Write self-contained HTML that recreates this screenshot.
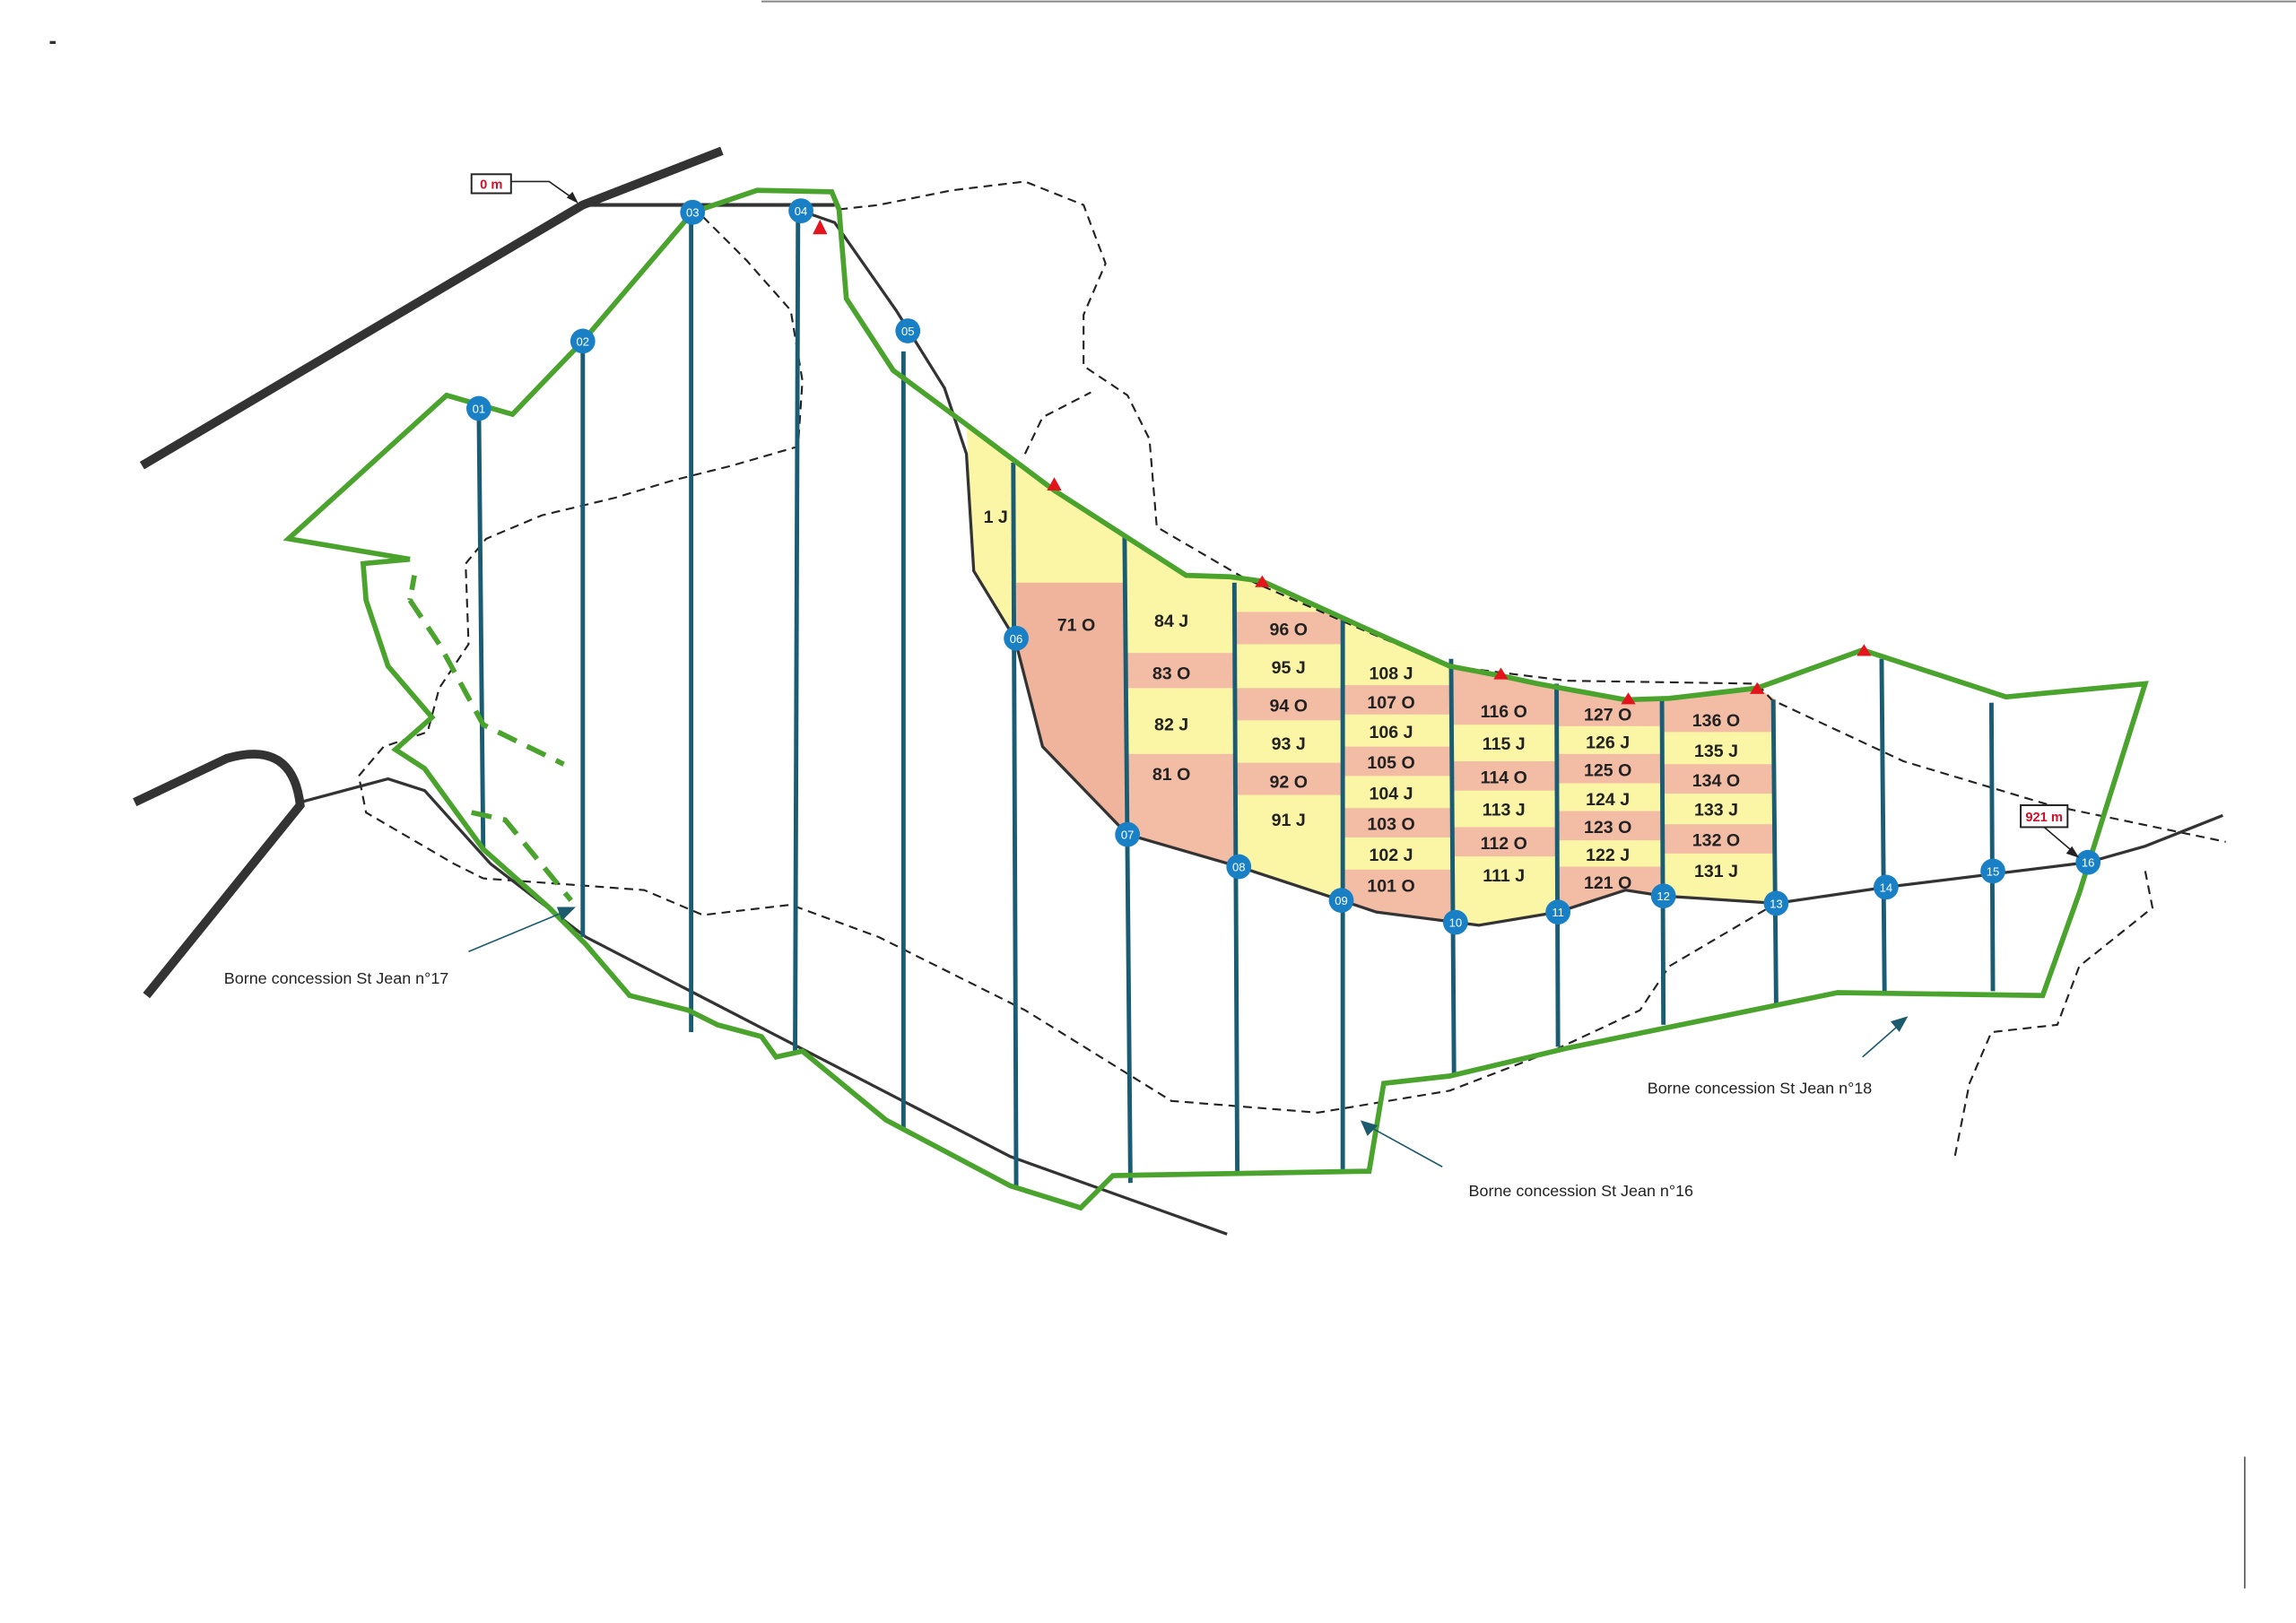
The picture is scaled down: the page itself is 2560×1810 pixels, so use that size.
<!DOCTYPE html>
<html><head><meta charset="utf-8"><style>
html,body{margin:0;padding:0;background:#fff;width:2560px;height:1810px;overflow:hidden}
svg{display:block}
text{font-family:"Liberation Sans",sans-serif}
.lb{font-size:12px;font-weight:bold;fill:#222;text-anchor:middle}
.nd text{font-size:8px;fill:#fff;text-anchor:middle}
</style></head><body>
<svg width="2560" height="1810" viewBox="0 0 1568 1108.6" xmlns="http://www.w3.org/2000/svg">
<defs>
<clipPath id="zone"><polygon points="660,290 720,335 810,393 862,397 930,428 990,455 1050,467 1110,478 1140,477 1200,470 1213,478 1213,617 1136,612 1110,608 1064,623 1010,632 940,623 916,615 846,592 770,570 712,510 693,436 665,390"/></clipPath>
</defs>
<line x1="520" y1="1" x2="1568" y2="1" stroke="#888" stroke-width="1.2"/>
<g clip-path="url(#zone)">
<rect x="640" y="280" width="600" height="360" fill="#fbf5a6"/>
<rect x="694" y="398" width="74" height="240" fill="#f0b49c"/>
<g fill="#f2bca5">
<rect x="768" y="446" width="75" height="24"/><rect x="768" y="515" width="75" height="80"/>
<rect x="843" y="418" width="74" height="22"/><rect x="843" y="470" width="74" height="22"/><rect x="843" y="521" width="74" height="22"/>
<rect x="917" y="468" width="74" height="20"/><rect x="917" y="510" width="74" height="20"/><rect x="917" y="552" width="74" height="20"/><rect x="917" y="594" width="74" height="40"/>
<rect x="991" y="455" width="72" height="40"/><rect x="991" y="520" width="72" height="20"/><rect x="991" y="565" width="72" height="20"/>
<rect x="1063" y="470" width="72" height="26"/><rect x="1063" y="515" width="72" height="20"/><rect x="1063" y="554" width="72" height="20"/><rect x="1063" y="592" width="72" height="30"/>
<rect x="1135" y="470" width="78" height="30"/><rect x="1135" y="522" width="78" height="20"/><rect x="1135" y="563" width="78" height="20"/>
</g>
</g>
<g fill="none" stroke="#222" stroke-width="1.3" stroke-dasharray="6,4">
<polyline points="573,143 600,140 650,130 700,124 740,140 755,180 740,215 740,250 770,270 785,300 790,360 850,395 930,430 990,455 1070,465 1200,467 1210,478 1300,520 1400,550 1520,575"/>
<polyline points="480,148 510,178 540,212 548,260 545,305 500,318 460,328 420,340 370,352 332,368 318,385 320,440 300,470 292,500 262,510 245,530 250,555 310,590 330,600 400,605 440,608 480,625 540,618 600,640 700,690 800,752 900,760 990,745 1060,718 1120,690 1140,660 1213,617"/>
<polyline points="1465,595 1470,620 1420,660 1405,700 1360,705 1345,740 1335,790"/>
<polyline points="700,310 712,285 745,268"/>
</g>
<g fill="none" stroke="#333" stroke-linecap="butt">
<polyline points="97,318 398,140 493,103" stroke-width="6"/>
<path d="M92,548 L155,518 Q200,505 205,550 L100,680" stroke-width="6"/>
<polyline points="398,140 570,140" stroke-width="2.5"/>
<polyline points="205,548 265,532 290,540 335,590 400,640 690,790 838,843" stroke-width="2"/>
<polyline points="547,144 570,152 612,212 645,265 660,310 665,390 693,436 712,510 770,570 846,592 916,615 940,623 1010,632 1064,623 1110,608 1136,612 1213,617 1288,606 1426,589 1465,578 1518,557" stroke-width="2"/>
</g>
<g stroke="#195c74" stroke-width="3">
<line x1="327" y1="279" x2="330" y2="580"/><line x1="398" y1="233" x2="398" y2="640"/>
<line x1="472" y1="145" x2="472" y2="705"/><line x1="545" y1="144" x2="543" y2="720"/>
<line x1="617" y1="240" x2="617" y2="770"/><line x1="692" y1="316" x2="694" y2="810"/>
<line x1="768" y1="366" x2="772" y2="808"/><line x1="843" y1="398" x2="845" y2="802"/>
<line x1="917" y1="423" x2="917" y2="800"/><line x1="991" y1="450" x2="993" y2="735"/>
<line x1="1063" y1="467" x2="1064" y2="715"/><line x1="1135" y1="478" x2="1136" y2="700"/>
<line x1="1211" y1="478" x2="1213" y2="686"/><line x1="1285" y1="450" x2="1287" y2="678"/>
<line x1="1360" y1="480" x2="1361" y2="677"/>
</g>
<g fill="none" stroke="#4aa32c" stroke-width="3.5" stroke-linejoin="miter">
<polyline points="280,382 197,368 305,270 350,283 398,233 473,145 517,130 568,131 573,143 578,204 610,253 660,290 720,335 810,393 840,394 862,397 930,428 990,455 1027,462 1050,467 1110,478 1140,477 1200,470 1272,444 1370,476 1465,467 1420,610 1395,680 1255,678 1070,716 990,735 945,740 935,800 760,803 738,825 690,810 605,765 548,718 530,722 520,708 490,700 470,690 430,680 400,645 375,620 330,580 290,525 270,512 295,490 265,455 250,410 248,385 280,382"/>
<polyline points="283,393 280,410" stroke-dasharray="10,6"/>
<polyline points="280,410 300,440 330,495 385,522" stroke-dasharray="14,8"/>
<polyline points="322,555 345,560 390,615" stroke-dasharray="14,8"/>
</g>
<g fill="#e3141c">
<polygon points="560,150 555,160 565,160"/><polygon points="720,326 715,335 725,335"/>
<polygon points="862,393 857,401 867,401"/><polygon points="1025,456 1020,464 1030,464"/>
<polygon points="1112,473 1107,481 1117,481"/><polygon points="1200,466 1195,474 1205,474"/>
<polygon points="1273,440 1268,448 1278,448"/>
</g>
<g class="lb">
<text x="680" y="357">1 J</text><text x="735" y="431">71 O</text>
<text x="800" y="428">84 J</text><text x="800" y="464">83 O</text><text x="800" y="499">82 J</text><text x="800" y="533">81 O</text>
<text x="880" y="434">96 O</text><text x="880" y="460">95 J</text><text x="880" y="486">94 O</text><text x="880" y="512">93 J</text><text x="880" y="538">92 O</text><text x="880" y="564">91 J</text>
<text x="950" y="464">108 J</text><text x="950" y="484">107 O</text><text x="950" y="504">106 J</text><text x="950" y="525">105 O</text><text x="950" y="546">104 J</text><text x="950" y="567">103 O</text><text x="950" y="588">102 J</text><text x="950" y="609">101 O</text>
<text x="1027" y="490">116 O</text><text x="1027" y="512">115 J</text><text x="1027" y="535">114 O</text><text x="1027" y="557">113 J</text><text x="1027" y="580">112 O</text><text x="1027" y="602">111 J</text>
<text x="1098" y="492">127 O</text><text x="1098" y="511">126 J</text><text x="1098" y="530">125 O</text><text x="1098" y="550">124 J</text><text x="1098" y="569">123 O</text><text x="1098" y="588">122 J</text><text x="1098" y="607">121 O</text>
<text x="1172" y="496">136 O</text><text x="1172" y="517">135 J</text><text x="1172" y="537">134 O</text><text x="1172" y="557">133 J</text><text x="1172" y="578">132 O</text><text x="1172" y="599">131 J</text>
</g>
<g class="nd">
<g fill="#1a80c6">
<circle cx="327" cy="279" r="8.5"/><circle cx="398" cy="233" r="8.5"/><circle cx="473" cy="145" r="8.5"/><circle cx="547" cy="144" r="8.5"/>
<circle cx="620" cy="226" r="8.5"/><circle cx="694" cy="436" r="8.5"/><circle cx="770" cy="570" r="8.5"/><circle cx="846" cy="592" r="8.5"/>
<circle cx="916" cy="615" r="8.5"/><circle cx="994" cy="630" r="8.5"/><circle cx="1064" cy="623" r="8.5"/><circle cx="1136" cy="612" r="8.5"/>
<circle cx="1213" cy="617" r="8.5"/><circle cx="1288" cy="606" r="8.5"/><circle cx="1361" cy="595" r="8.5"/><circle cx="1426" cy="589" r="8.5"/>
</g>
<text x="327" y="282">01</text><text x="398" y="236">02</text><text x="473" y="148">03</text><text x="547" y="147">04</text>
<text x="620" y="229">05</text><text x="694" y="439">06</text><text x="770" y="573">07</text><text x="846" y="595">08</text>
<text x="916" y="618">09</text><text x="994" y="633">10</text><text x="1064" y="626">11</text><text x="1136" y="615">12</text>
<text x="1213" y="620">13</text><text x="1288" y="609">14</text><text x="1361" y="598">15</text><text x="1426" y="592">16</text>
</g>
<rect x="322" y="119" width="27" height="13" fill="#fff" stroke="#222" stroke-width="1.2"/>
<text x="335.5" y="129" font-size="9" font-weight="bold" fill="#d0102a" text-anchor="middle">0 m</text>
<polyline points="349,124 375,124 392,136" fill="none" stroke="#222" stroke-width="1"/>
<polygon points="395,139 387,135 391,131" fill="#222"/>
<rect x="1380" y="550" width="32" height="15" fill="#fff" stroke="#222" stroke-width="1.2"/>
<text x="1396" y="561" font-size="9" font-weight="bold" fill="#d0102a" text-anchor="middle">921 m</text>
<line x1="1396" y1="565" x2="1416" y2="582" stroke="#222" stroke-width="1"/>
<polygon points="1420,586 1411,583 1415,578" fill="#222"/>
<g font-size="11" fill="#222">
<text x="153" y="672">Borne concession St Jean n°17</text>
<text x="1003" y="817">Borne concession St Jean n°16</text>
<text x="1125" y="747">Borne concession St Jean n°18</text>
</g>
<g stroke="#1c5b6e" stroke-width="1" fill="#1c5b6e">
<line x1="320" y1="650" x2="385" y2="623"/><polygon points="392,620 381,620 384,628"/>
<line x1="985" y1="797" x2="936" y2="770"/><polygon points="930,766 934,775 940,769"/>
<line x1="1272" y1="722" x2="1297" y2="700"/><polygon points="1302,695 1292,698 1297,704"/>
</g>
<line x1="1533" y1="995" x2="1533" y2="1085" stroke="#555" stroke-width="1"/>
<rect x="34" y="28" width="4" height="2" fill="#333"/>
</svg>
</body></html>
